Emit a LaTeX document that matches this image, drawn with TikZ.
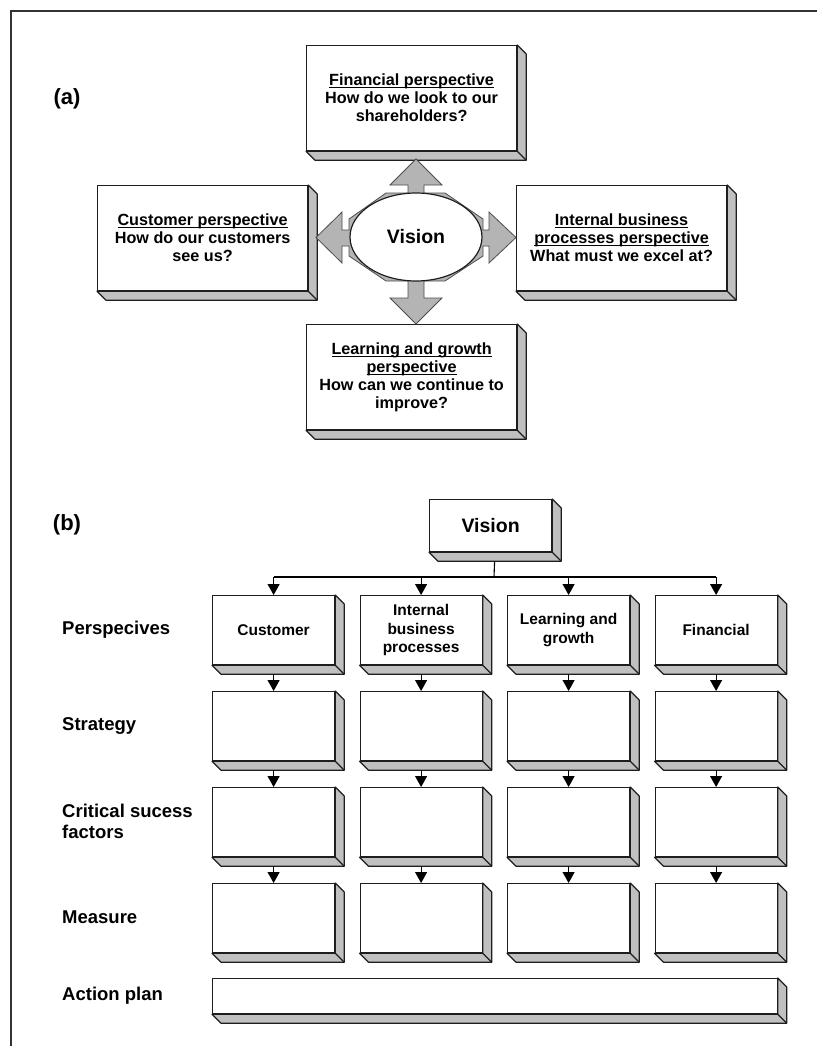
\documentclass[tikz,border=0pt]{standalone}
\usepackage{fontspec}
\setmainfont{Liberation Sans}
\usetikzlibrary{positioning,shapes.geometric,arrows.meta}

\definecolor{sidegray}{HTML}{C0C0C0}
\definecolor{arrowgray}{HTML}{B4B4B4}
\definecolor{edgegray}{HTML}{1E1E1E}

% underline that sits just under the baseline
\newcommand{\ulined}[1]{\setbox0\hbox{#1}\rlap{\rule[-2.6pt]{\wd0}{1.3pt}}\box0}

\tikzset{
  slab/.style={rectangle, draw=edgegray, fill=white, line width=1.2pt,
    inner sep=2pt, align=center, anchor=north west,
    append after command={\pgfextra{
      \filldraw[draw=edgegray, fill=sidegray, line width=1.2pt, line join=round]
        (\tikzlastnode.north east) -- ([shift={(9,9)}]\tikzlastnode.north east)
        -- ([shift={(9,9)}]\tikzlastnode.south east)
        -- ([shift={(9,9)}]\tikzlastnode.south west)
        -- (\tikzlastnode.south west) -- (\tikzlastnode.south east) -- cycle;
      \draw[edgegray, line width=1.2pt] (\tikzlastnode.south east) -- ++(9,9);
    }}},
  abox/.style={slab, minimum width=210pt, minimum height=105pt,
    font=\fontsize{16.2}{18}\selectfont\bfseries},
  bbox/.style={slab, minimum width=122pt, minimum height=69pt,
    font=\fontsize{15.5}{18.5}\selectfont\bfseries},
  rowlabel/.style={anchor=west, inner sep=0pt, align=left,
    font=\fontsize{18.5}{21}\selectfont\bfseries},
  partlabel/.style={inner sep=0pt, font=\fontsize{22}{22}\selectfont\bfseries},
  flow/.style={-{Triangle[width=12pt,length=11pt]}, line width=1.1pt, black},
  bus/.style={line width=1.1pt, black},
}

\begin{document}
\begin{tikzpicture}[x=1pt, y=-1pt]
  \useasboundingbox (0,0) rectangle (817,1046);
  \draw[line width=2pt, black!80] (11,1046) -- (11,11) -- (817,11);

  % (a) four perspectives round the vision
  \node[partlabel] (la) at (67,99) {(a)};
  \node[abox] (fin) at (306,45)
    {\ulined{Financial perspective}\\How do we look to our\\shareholders?};
  \node[abox] (cus) at (97,185)
    {\ulined{Customer perspective}\\How do our customers\\see us?};
  \node[abox] (int) at (516,185)
    {\ulined{Internal business}\\\ulined{processes perspective}\\What must we excel at?};
  \node[abox] (lrn) at (306,324)
    {\ulined{Learning and growth}\\\ulined{perspective}\\How can we continue to\\improve?};

  \filldraw[fill=arrowgray, draw=black!70, line width=0.8pt, line join=miter]
    (386,193) -- (408,193) -- (408,185) -- (390,185) -- (416,159) -- (442,185)
    -- (424,185) -- (424,193) -- (445,193) -- (483,219) -- (483,230) -- (489,230)
    -- (489,212) -- (516,237.5) -- (489,263) -- (489,246) -- (483,246) -- (483,256)
    -- (445,281) -- (424,281) -- (424,298) -- (442,298) -- (416,324) -- (390,298)
    -- (408,298) -- (408,281) -- (386,281) -- (349,256) -- (349,246) -- (342,246)
    -- (342,263) -- (316,237.5) -- (342,212) -- (342,230) -- (349,230) -- (349,219)
    -- cycle;
  \node[ellipse, draw=edgegray, fill=white, line width=1.2pt, inner sep=0pt,
    minimum width=132pt, minimum height=88pt,
    font=\fontsize{19.5}{19.5}\selectfont\bfseries] (visa) at (416,237) {Vision};

  % (b) from vision down to the action plan
  \node[partlabel] (lb) at (67,525) {(b)};
  \node[slab, minimum width=122pt, minimum height=52pt,
    font=\fontsize{19.5}{19.5}\selectfont\bfseries] (visb) at (429,499) {Vision};

  \node[rowlabel] (rp) at (62,629.5) {Perspecives};
  \node[rowlabel] (rs) at (62,725.5) {Strategy};
  \node[rowlabel] (rc) at (62,821.5) {Critical sucess\\factors};
  \node[rowlabel] (rm) at (62,917.5) {Measure};
  \node[rowlabel] (ra) at (62,995.5) {Action plan};

  \foreach \txt [count=\i] in {Customer, {Internal\\business\\processes},
      {Learning and\\growth}, Financial} {
    \node[bbox] (p\i) at (64.5+147.5*\i,595) {\txt};
    \node[bbox] (s\i) at (64.5+147.5*\i,691) {};
    \node[bbox] (c\i) at (64.5+147.5*\i,787) {};
    \node[bbox] (m\i) at (64.5+147.5*\i,883) {};
    \draw[flow, shorten <=9pt] (p\i) -- (s\i);
    \draw[flow, shorten <=9pt] (s\i) -- (c\i);
    \draw[flow, shorten <=9pt] (c\i) -- (m\i);
  }
  \node[slab, minimum width=564.5pt, minimum height=35pt] (act) at (212,978) {};

  \coordinate (tap) at (494,577);
  \draw[bus] ([xshift=4pt, yshift=-9pt]visb.south) -- (tap);
  \draw[bus] (p1.north |- tap) -- (p4.north |- tap);
  \foreach \i in {1,...,4}
    \draw[flow] (p\i.north |- tap) -- (p\i.north);
\end{tikzpicture}
\end{document}
